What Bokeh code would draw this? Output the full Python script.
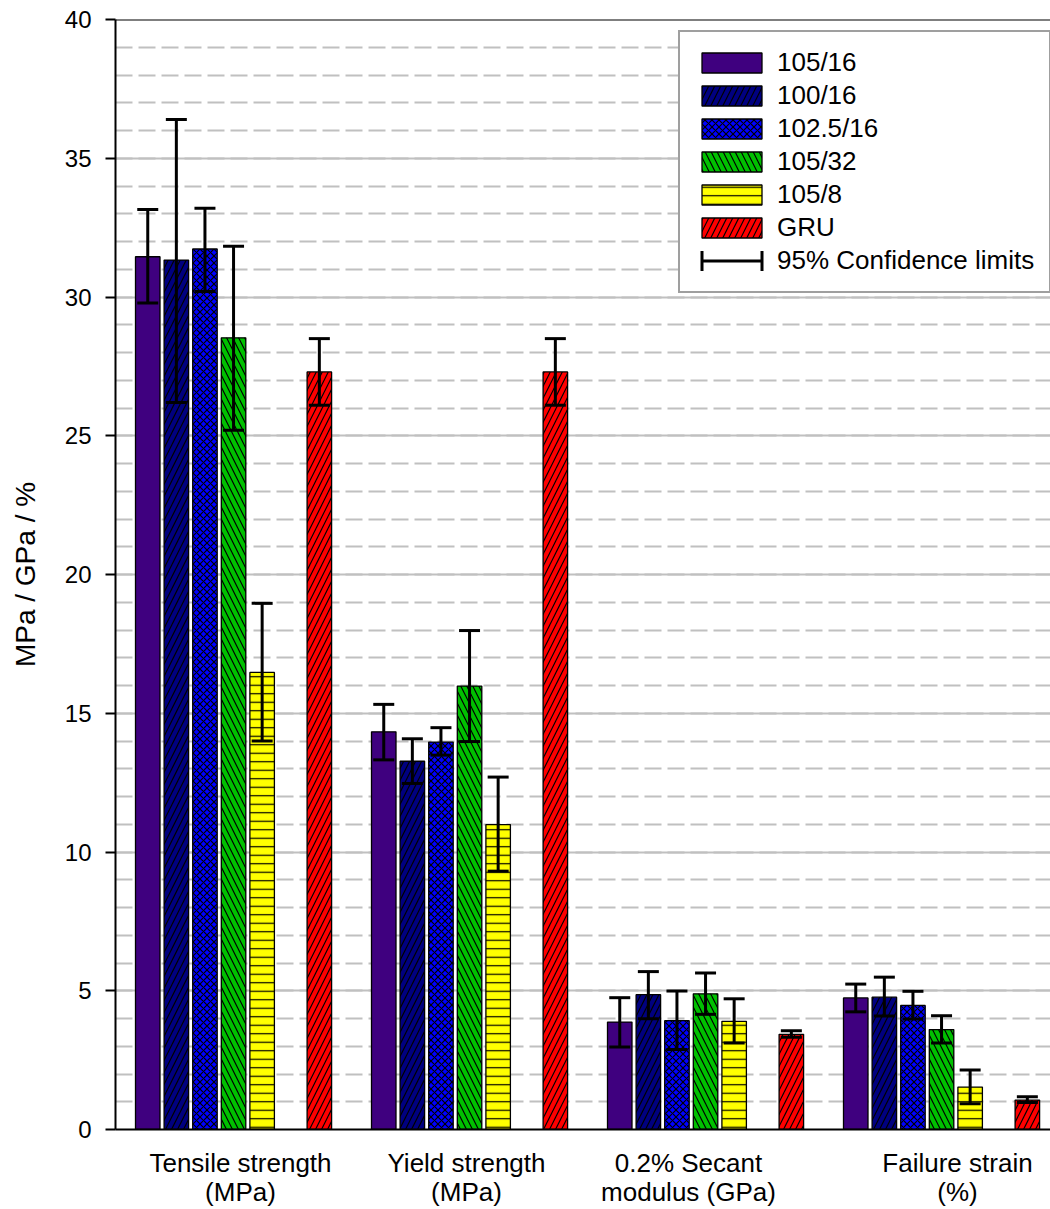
from bokeh.plotting import figure
from bokeh.models import (ColumnDataSource, Range1d, FixedTicker, SingleIntervalTicker,
                          Span, Legend, LegendItem)
from bokeh.embed import file_html
from bokeh.resources import INLINE

# ---------------- data ----------------
categories = ["Tensile strength\n(MPa)", "Yield strength\n(MPa)",
              "0.2% Secant\nmodulus (GPa)", "Failure strain\n(%)"]
series_names = ["105/16", "100/16", "102.5/16", "105/32", "105/8", "GRU"]

mean_105_16 = [31.45, 14.33, 3.87, 4.74]
low_105_16 = [29.78, 13.32, 2.97, 4.24]
high_105_16 = [33.15, 15.32, 4.75, 5.24]

mean_100_16 = [31.33, 13.27, 4.86, 4.77]
low_100_16 = [26.20, 12.47, 3.99, 4.09]
high_100_16 = [36.40, 14.08, 5.69, 5.49]

mean_1025_16 = [31.73, 13.96, 3.92, 4.47]
low_1025_16 = [30.20, 13.49, 2.88, 3.98]
high_1025_16 = [33.20, 14.48, 4.99, 4.98]

mean_105_32 = [28.53, 15.98, 4.89, 3.60]
low_105_32 = [25.20, 13.98, 4.15, 3.12]
high_105_32 = [31.83, 17.98, 5.64, 4.10]

mean_105_8 = [16.47, 10.99, 3.90, 1.53]
low_105_8 = [14.00, 9.31, 3.12, 0.93]
high_105_8 = [18.96, 12.70, 4.71, 2.14]

mean_gru = [27.30, 27.30, 3.43, 1.06]
low_gru = [26.10, 26.10, 3.32, 0.97]
high_gru = [28.50, 28.50, 3.56, 1.18]

means = [mean_105_16, mean_100_16, mean_1025_16, mean_105_32, mean_105_8, mean_gru]
lows = [low_105_16, low_100_16, low_1025_16, low_105_32, low_105_8, low_gru]
highs = [high_105_16, high_100_16, high_1025_16, high_105_32, high_105_8, high_gru]

# ---------------- styles / layout ----------------
FONT = "Liberation Sans"
colors = ["#3f007f", "#000080", "#0000ff", "#00c000", "#ffff00", "#ff0000"]
hatches = [None, "/", "x", "\\", "-", "/"]
hatch_scales = [12, 12, 7, 12, 8.5, 12]
slots = [0, 1, 2, 3, 4, 6]          # GRU sits one slot further right

group_left = 20.0      # px from frame left to first bar of first group
group_pitch = 236.0
slot_pitch = 28.6
bar_w = 24.5
cap_half = 10.5
label_pos = [125, 351, 573, 842]

p = figure(width=1050, height=1209,
           x_range=Range1d(0, 935), y_range=Range1d(0, 40),
           output_backend="svg", toolbar_location=None,
           min_border_left=115, min_border_right=0,
           min_border_top=19, min_border_bottom=78)
p.outline_line_color = None
p.background_fill_color = "white"
p.border_fill_color = "white"

# grid
yt = SingleIntervalTicker(interval=5, num_minor_ticks=5)
p.yaxis.ticker = yt
p.ygrid.ticker = yt
p.xgrid.visible = False
p.ygrid.grid_line_color = "#c0c0c0"
p.ygrid.grid_line_width = 2
p.ygrid.minor_grid_line_color = "#c0c0c0"
p.ygrid.minor_grid_line_width = 2
p.ygrid.minor_grid_line_dash = "17 6"

# bars
bar_renderers = []
err_sources = []
for i, name in enumerate(series_names):
    xs = [group_left + g * group_pitch + bar_w / 2 + slots[i] * slot_pitch
          for g in range(len(categories))]
    src = ColumnDataSource(dict(
        x=xs, top=means[i], lo=lows[i], hi=highs[i],
        cl=[x - cap_half for x in xs], cr=[x + cap_half for x in xs]))
    r = p.vbar(x="x", top="top", bottom=0, width=bar_w, source=src,
               fill_color=colors[i], line_color="black", line_width=1.3,
               hatch_pattern=hatches[i], hatch_color="black",
               hatch_weight=1.2, hatch_scale=hatch_scales[i])
    bar_renderers.append(r)
    err_sources.append(src)

# error bars (drawn on top of all bars)
for src in err_sources:
    p.segment(x0="x", y0="lo", x1="x", y1="hi", source=src,
              line_color="black", line_width=3)
    p.segment(x0="cl", y0="hi", x1="cr", y1="hi", source=src,
              line_color="black", line_width=3)
    p.segment(x0="cl", y0="lo", x1="cr", y1="lo", source=src,
              line_color="black", line_width=3)

# top frame line
p.add_layout(Span(location=40, dimension="width", line_color="black", line_width=2))

# legend-only glyphs for the confidence limit symbol (NaN data: nothing drawn in plot)
nan = float("nan")
legend_only = ColumnDataSource(dict(x=[nan], y=[nan], x1=[nan], y1=[nan]))
cl_line = p.segment(x0="x", y0="y", x1="x1", y1="y1", source=legend_only,
                    line_color="black", line_width=3, line_dash="0 7 61 7")
cl_caps = p.rect(x="x", y="y", width=1, height=1, source=legend_only,
                 fill_color=None, line_color="black", line_width=3,
                 line_dash="0 60 20 60 20")

items = [LegendItem(label=n, renderers=[r]) for n, r in zip(series_names, bar_renderers)]
items.append(LegendItem(label="95% Confidence limits", renderers=[cl_line, cl_caps]))
legend = Legend(items=items, location=(563, 836),
                border_line_color="#404040", border_line_width=2,
                background_fill_color="white", background_fill_alpha=1,
                label_text_font=FONT, label_text_font_size="26px",
                label_text_color="black",
                glyph_width=75, glyph_height=25, label_height=33, label_width=258,
                spacing=0, padding=14, label_standoff=8, margin=0)
p.add_layout(legend)

# y axis
p.yaxis.axis_line_width = 2
p.yaxis.axis_line_color = "black"
p.yaxis.major_tick_out = 10
p.yaxis.major_tick_in = 0
p.yaxis.major_tick_line_width = 2
p.yaxis.major_tick_line_color = "black"
p.yaxis.minor_tick_line_color = None
p.yaxis.major_label_text_font = FONT
p.yaxis.major_label_text_font_size = "24px"
p.yaxis.major_label_text_color = "black"
p.yaxis.major_label_standoff = 14
p.yaxis.axis_label = "MPa / GPa / %"
p.yaxis.axis_label_text_font = FONT
p.yaxis.axis_label_text_font_size = "28px"
p.yaxis.axis_label_text_font_style = "normal"
p.yaxis.axis_label_text_color = "black"
p.yaxis.axis_label_standoff = 21

# x axis
p.xaxis.ticker = FixedTicker(ticks=label_pos)
p.xaxis.major_label_overrides = {pos: lab for pos, lab in zip(label_pos, categories)}
p.xaxis.axis_line_width = 2
p.xaxis.axis_line_color = "black"
p.xaxis.major_tick_line_color = None
p.xaxis.major_tick_out = 0
p.xaxis.major_tick_in = 0
p.xaxis.minor_tick_line_color = None
p.xaxis.major_label_text_font = FONT
p.xaxis.major_label_text_font_size = "26px"
p.xaxis.major_label_text_color = "black"
p.xaxis.major_label_text_line_height = 0.97
p.xaxis.major_label_standoff = 18

open("out.html", "w").write(file_html(p, INLINE))
